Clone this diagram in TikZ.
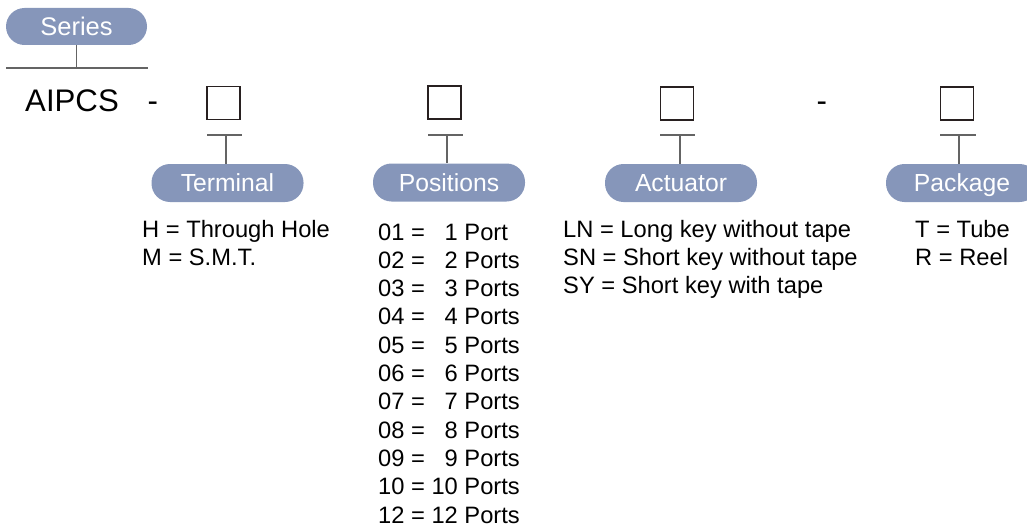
\documentclass[tikz,border=0pt]{standalone}
\usepackage{fontspec}
\setmainfont{Liberation Sans}
\definecolor{pillc}{RGB}{134,150,186}
\definecolor{connc}{RGB}{100,100,100}
\definecolor{boxc}{RGB}{40,32,32}
\begin{document}
\begin{tikzpicture}[x=1pt,y=-1pt,
  pill/.style={fill=pillc, rounded corners=18.5pt, minimum height=38pt, minimum width=152pt,
    text=white, inner sep=0pt, text height=17.6pt, text depth=0pt,
    font=\fontsize{24.7}{28}\selectfont},
  codebox/.style={draw=boxc, line width=1.3pt, minimum width=33pt, minimum height=33pt, inner sep=0pt},
  conn/.style={draw=connc, line width=1.6pt},
  body/.style={anchor=base west, inner sep=0pt, font=\fontsize{23.7}{28}\selectfont},
  big/.style={anchor=base west, inner sep=0pt, font=\fontsize{31.2}{36}\selectfont}]
\useasboundingbox (0,0) rectangle (1027,527);

% Series
\node[pill, minimum width=141pt, minimum height=37pt, text height=18.3pt, font=\fontsize{25.5}{28}\selectfont] (series) at (76.5,26.5) {Series};
\coordinate (sbl) at (6,68);
\coordinate (sbr) at (148,68);
\draw[conn] (sbl) -- (sbr);
\draw[conn] (series.south) -- (series.south |- sbl);

% code line
\node[big] (aipcs) at (25,111) {AIPCS};
\node[big] (dash1) at (147.5,111) {-};
\node[big] (dash2) at (816.5,111) {-};

\node[codebox] (b1) at (223.5,103) {};
\node[codebox] (b2) at (444.5,102.5) {};
\node[codebox] (b3) at (677,103.5) {};
\node[codebox] (b4) at (957,103.5) {};

% labels
\node[pill] (terminal) at (227.5,183) {Terminal};
\node[pill] (positions) at (449,182.5) {Positions};
\node[pill] (actuator) at (681,183) {Actuator};
\node[pill] (package) at (962,183) {Package};

% T connectors
\coordinate (tL1) at (207,135); \coordinate (tR1) at (242,135); \coordinate (tM1) at (226,135);
\coordinate (tL2) at (428,135); \coordinate (tR2) at (463,135); \coordinate (tM2) at (447,135);
\coordinate (tL3) at (660,135); \coordinate (tR3) at (695,135); \coordinate (tM3) at (680,135);
\coordinate (tL4) at (940,135); \coordinate (tR4) at (976,135); \coordinate (tM4) at (959,135);
\draw[conn] (tL1) -- (tR1); \draw[conn] (tM1) -- (tM1 |- terminal.north);
\draw[conn] (tL2) -- (tR2); \draw[conn] (tM2) -- (tM2 |- positions.north);
\draw[conn] (tL3) -- (tR3); \draw[conn] (tM3) -- (tM3 |- actuator.north);
\draw[conn] (tL4) -- (tR4); \draw[conn] (tM4) -- (tM4 |- package.north);

% Terminal options
\node[body] (h) at (142,237) {H = Through Hole};
\node[body] (m) at (142,265) {M = S.M.T.};

% Positions options
\foreach \n/\t [count=\i from 0] in {
  01/{\phantom{1}1 Port}, 02/{\phantom{1}2 Ports}, 03/{\phantom{1}3 Ports},
  04/{\phantom{1}4 Ports}, 05/{\phantom{1}5 Ports}, 06/{\phantom{1}6 Ports},
  07/{\phantom{1}7 Ports}, 08/{\phantom{1}8 Ports}, 09/{\phantom{1}9 Ports},
  10/{10 Ports}, 12/{12 Ports}}
  \node[body] (p\n) at (378,240+28.3*\i) {\n\ = \t};

% Actuator options
\node[body] (ln) at (563,237) {LN = Long key without tape};
\node[body] (sn) at (563,265) {SN = Short key without tape};
\node[body] (sy) at (563,293) {SY = Short key with tape};

% Package options
\node[body] (tt) at (915,237) {T = Tube};
\node[body] (rr) at (915,265) {R = Reel};
\end{tikzpicture}
\end{document}
